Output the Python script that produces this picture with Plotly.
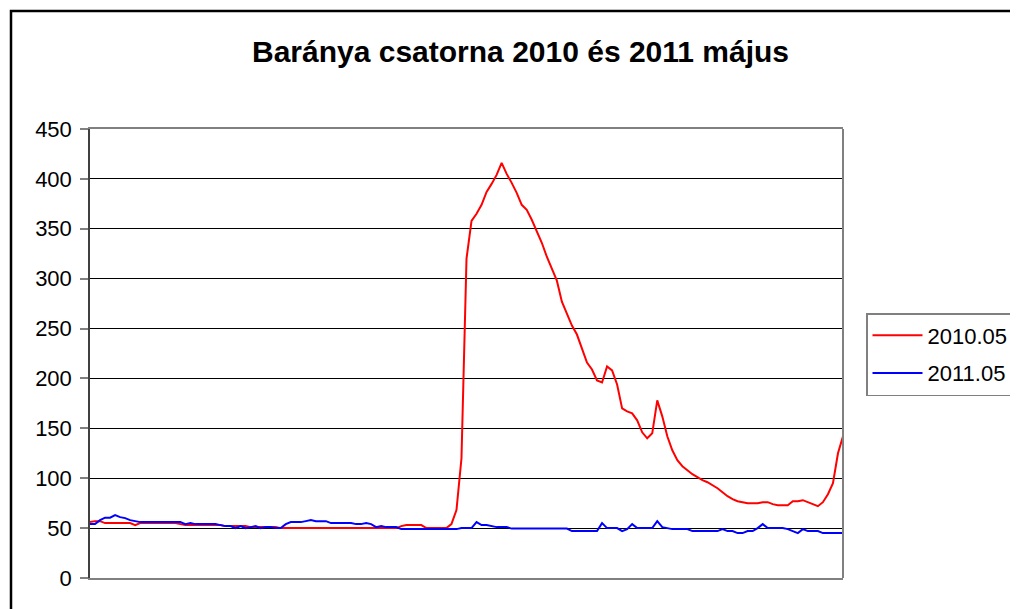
import plotly.graph_objects as go

# Data (one reading every ~5 px along the time axis)
series_names = ["2010.05", "2011.05"]

values_2010 = [
    56, 57, 57, 55, 55, 55, 55, 55, 55, 53,
    55, 55, 55, 55, 55, 55, 55, 55, 54, 53,
    53, 53, 53, 53, 53, 53, 53, 52, 52, 52,
    52, 52, 51, 51, 51, 51, 51, 51, 50, 50,
    50, 50, 50, 50, 50, 50, 50, 50, 50, 50,
    50, 50, 50, 50, 50, 50, 50, 50, 50, 50,
    50, 50, 52, 53, 53, 53, 53, 50, 50, 50,
    50, 50, 54, 68, 120, 320, 358, 365, 374, 387,
    395, 404, 416, 405, 396, 386, 374, 369, 359, 347,
    336, 322, 310, 298, 277, 265, 253, 244, 230, 216,
    209, 198, 196, 212, 208, 194, 170, 167, 165, 158,
    146, 140, 145, 178, 162, 142, 128, 118, 112, 108,
    104, 101, 98, 96, 93, 90, 86, 82, 79, 77,
    76, 75, 75, 75, 76, 76, 74, 73, 73, 73,
    77, 77, 78, 76, 74, 72, 76, 84, 95, 125,
    142,
]

values_2011 = [
    54, 54, 58, 60.5, 60.5, 63, 61, 60, 58, 57,
    56, 56, 56, 56, 56, 56, 56, 56, 56, 54,
    55, 54, 54, 54, 54, 54, 53, 52, 52, 50,
    52, 50, 51, 52, 50, 51, 51, 50, 50, 54,
    56, 56, 56, 57, 58, 57, 57, 57, 55, 55,
    55, 55, 55, 54, 54, 55, 54, 51, 52, 51,
    51, 51, 49, 49, 49, 49, 49, 49, 49, 49,
    49, 49, 49, 49, 50, 50, 50, 56, 53, 53,
    52, 51, 51, 51, 49.5, 49.5, 49.5, 49.5, 49.5, 49.5,
    49.5, 49.5, 49.5, 49.5, 49.5, 49.5, 47, 47, 47, 47,
    47, 47, 55, 50, 50, 50, 47, 49, 54, 50,
    50, 50, 50, 57, 51, 50, 49, 49, 49, 49,
    47, 47, 47, 47, 47, 47, 49, 47, 47, 45,
    45, 47, 47, 50, 54, 50, 50, 50, 50, 49,
    47, 45, 49, 47, 47, 47, 45, 45, 45, 45,
    45,
]

time_index = list(range(len(values_2010)))

y_ticks = [0, 50, 100, 150, 200, 250, 300, 350, 400, 450]
title_text = "Baránya csatorna 2010 és 2011 május"

OFF = 8  # page body margin
W, H = 1018 - OFF, 609 - OFF
L, R, T, B = 90 - OFF, 843 - OFF, 129 - OFF, 578 - OFF
pw, ph = R - L, B - T


def px_x(x):
    return (x - OFF - L) / pw


def px_y(y):
    return (B - (y - OFF)) / ph


FONT = "Liberation Sans, Arial, sans-serif"

fig = go.Figure()
fig.add_trace(go.Scatter(x=time_index, y=values_2010, mode="lines",
                         name=series_names[0], legendgroup="a",
                         line=dict(color="#FF0000", width=2)))
fig.add_trace(go.Scatter(x=time_index, y=values_2011, mode="lines",
                         name=series_names[1], legendgroup="b",
                         line=dict(color="#0000FF", width=2)))

fig.update_layout(
    width=W, height=H,
    margin=dict(l=L, r=W - R, t=T, b=H - B, autoexpand=False),
    paper_bgcolor="white", plot_bgcolor="white",
    font=dict(family=FONT, size=22, color="black"),
    showlegend=True,
    legend=dict(x=px_x(866), y=px_y(313), xanchor="left", yanchor="top",
                bordercolor="#808080", borderwidth=1.5,
                font=dict(size=22, family=FONT),
                tracegroupgap=6, itemwidth=50,
                bgcolor="white"),
    xaxis=dict(range=[0, len(values_2010) - 1], showgrid=False,
               showticklabels=False, ticks="", zeroline=False,
               showline=True, linecolor="#808080", linewidth=2, mirror=True),
    yaxis=dict(range=[0, 450], tickvals=y_ticks,
               ticktext=[str(v) for v in y_ticks],
               showgrid=True, gridcolor="black", gridwidth=1,
               zeroline=False, showline=True, linecolor="#404040",
               linewidth=1.5, ticks="outside", ticklen=8,
               tickcolor="#808080", tickwidth=1.5, ticklabelstandoff=4,
               tickfont=dict(size=22, family=FONT)),
    annotations=[dict(text="<b>" + title_text + "</b>", x=px_x(520),
                      y=px_y(52), xref="paper", yref="paper",
                      xanchor="center", yanchor="middle", showarrow=False,
                      font=dict(size=30, family=FONT, color="black"))],
    shapes=[
        dict(type="rect", xref="paper", yref="paper",
             x0=px_x(11), x1=px_x(1040), y0=px_y(620), y1=px_y(11),
             line=dict(color="black", width=2.5), layer="below"),
        dict(type="line", xref="paper", yref="paper", x0=1, x1=1, y0=0, y1=1,
             line=dict(color="#808080", width=2)),
    ],
)

fig.write_html("out.html")
